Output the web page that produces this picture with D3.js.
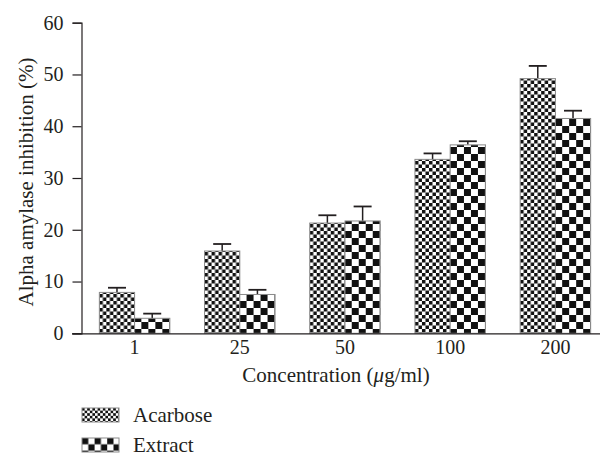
<!DOCTYPE html>
<html>
<head>
<meta charset="utf-8">
<script src="https://cdn.jsdelivr.net/npm/d3@7"></script>
<style>
  body { margin: 0; background: #fff; }
  svg text { font-family: "Liberation Serif", "DejaVu Serif", serif; fill: #231f20; }
</style>
</head>
<body>
<div id="chart"></div>
<script>
var concentrations = ["1", "25", "50", "100", "200"];
var seriesNames = ["Acarbose", "Extract"];
var acarbose = [7.9, 15.9, 21.3, 33.6, 49.2];
var acarboseErr = [0.9, 1.35, 1.5, 1.15, 2.45];
var extract = [2.9, 7.5, 21.7, 36.4, 41.5];
var extractErr = [0.9, 0.9, 2.8, 0.7, 1.5];
var yTicks = [0, 10, 20, 30, 40, 50, 60];

var width = 605, height = 457;
var fontSize = 20;
var svg = d3.select("#chart").append("svg")
    .attr("width", width)
    .attr("height", height);

// checkerboard fills
var defs = svg.append("defs");
function checker(id, cell) {
    var p = defs.append("pattern")
        .attr("id", id)
        .attr("patternUnits", "userSpaceOnUse")
        .attr("width", cell * 2)
        .attr("height", cell * 2);
    p.append("rect").attr("width", cell * 2).attr("height", cell * 2).attr("fill", "#fff");
    p.append("rect").attr("width", cell).attr("height", cell).attr("fill", "#111");
    p.append("rect").attr("x", cell).attr("y", cell).attr("width", cell).attr("height", cell).attr("fill", "#111");
}
checker("fineCheck", 3.5);
checker("coarseCheck", 7);
checker("fineCheckSmall", 2.6);
checker("coarseCheckSmall", 6.3);
var fills = ["url(#fineCheck)", "url(#coarseCheck)"];
var legendFills = ["url(#fineCheckSmall)", "url(#coarseCheckSmall)"];

var x = d3.scaleBand()
    .domain(concentrations)
    .range([82, 608])
    .paddingInner(0.33)
    .paddingOuter(0.165);
var xs = d3.scaleBand()
    .domain(seriesNames)
    .range([0, x.bandwidth()]);
var y = d3.scaleLinear()
    .domain([0, 60])
    .range([333.3, 22.7]);

var rows = concentrations.map((c, i) => ({
    c: c,
    vals: [
        { s: "Acarbose", v: acarbose[i], e: acarboseErr[i] },
        { s: "Extract", v: extract[i], e: extractErr[i] }
    ]
}));

// y axis
var yAxis = svg.append("g")
    .attr("transform", "translate(81.5,0)")
    .call(d3.axisLeft(y).tickValues(yTicks).tickSize(9).tickPadding(9));
yAxis.select(".domain").attr("stroke", "#231f20").attr("stroke-width", 1.2);
yAxis.selectAll(".tick line").attr("stroke", "#231f20").attr("stroke-width", 1.2);
yAxis.selectAll(".tick text")
    .style("font-family", "Liberation Serif")
    .attr("font-size", fontSize).attr("fill", "#231f20");

// bars
var groups = svg.selectAll("g.grp")
    .data(rows)
    .enter().append("g")
    .attr("class", "grp")
    .attr("transform", d => "translate(" + x(d.c) + ",0)");

// error bars (upper only)
groups.selectAll("g.err")
    .data(d => d.vals)
    .enter().append("g")
    .attr("class", "err")
    .each(function (d) {
        var g = d3.select(this);
        var cx = xs(d.s) + xs.bandwidth() / 2;
        g.append("line")
            .attr("x1", cx).attr("x2", cx)
            .attr("y1", y(d.v)).attr("y2", y(d.v + d.e))
            .attr("stroke", "#231f20").attr("stroke-width", 1.5);
        g.append("line")
            .attr("x1", cx - 9).attr("x2", cx + 9)
            .attr("y1", y(d.v + d.e)).attr("y2", y(d.v + d.e))
            .attr("stroke", "#231f20").attr("stroke-width", 1.8);
    });

groups.selectAll("rect")
    .data(d => d.vals)
    .enter().append("rect")
    .attr("x", d => xs(d.s))
    .attr("y", d => y(d.v))
    .attr("width", xs.bandwidth())
    .attr("height", d => y(0) - y(d.v))
    .attr("fill", (d, i) => fills[i])
    .attr("stroke", "#8a8a8a")
    .attr("stroke-width", 1);

// x axis
var xAxis = svg.append("g")
    .attr("transform", "translate(0,333.3)")
    .call(d3.axisBottom(x).tickSize(0).tickPadding(7));
xAxis.select(".domain").attr("d", "M72,0.5H600").attr("stroke", "#231f20").attr("stroke-width", 1.2);
xAxis.selectAll(".tick text")
    .style("font-family", "Liberation Serif")
    .attr("font-size", fontSize).attr("fill", "#231f20");

// axis titles
svg.append("text")
    .attr("transform", "translate(33,182) rotate(-90)")
    .attr("text-anchor", "middle")
    .attr("font-size", fontSize + 1)
    .text("Alpha amylase inhibition (%)");

var xt = svg.append("text")
    .attr("x", 336).attr("y", 382)
    .attr("text-anchor", "middle")
    .attr("font-size", fontSize + 1);
xt.append("tspan").text("Concentration (");
xt.append("tspan").attr("font-style", "italic").text("μ");
xt.append("tspan").text("g/ml)");

// legend
var legend = svg.selectAll("g.leg")
    .data(seriesNames)
    .enter().append("g")
    .attr("class", "leg")
    .attr("transform", (d, i) => "translate(82," + (408 + i * 30) + ")");
legend.append("rect")
    .attr("width", 37).attr("height", 14)
    .attr("fill", (d, i) => legendFills[i])
    .attr("stroke", "#8a8a8a").attr("stroke-width", 1);
legend.append("text")
    .attr("x", 51).attr("y", 14)
    .attr("font-size", fontSize + 1)
    .text(d => d);
</script>
</body>
</html>
